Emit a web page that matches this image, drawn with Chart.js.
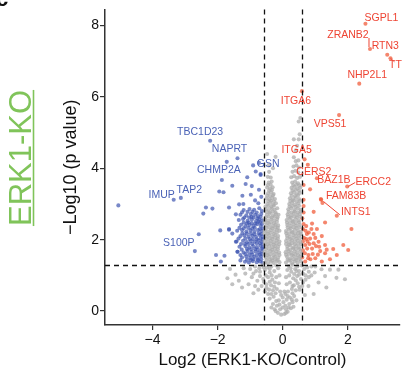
<!DOCTYPE html>
<html>
<head>
<meta charset="utf-8">
<script src="https://cdn.jsdelivr.net/npm/chart.js@4"></script>
<style>
  body { margin: 0; background: #fff; }
</style>
</head>
<body>
<canvas id="myChart" width="402" height="374"></canvas>
<script>
// Axis ticks
const xTicks = [-4, -2, 0, 2];
const yTicks = [0, 2, 4, 6, 8];
// Cutoffs (log2 fold change, -log10 p)
const fcCut = 0.585;
const pCut = 1.3;

// Not significant proteins [log2FC, -log10 p]
const grayPoints = [
  [-0.25,0.05],[-0.15,-0.05],[-0.05,-0.1],[0.05,-0.08],[0.15,-0.02],[0.25,0.08],[-0.3,0.2],[-0.18,0.15],[-0.08,0.05],[0.0,0.1],
  [0.1,0.05],[0.2,0.2],[0.3,0.25],[-0.4,0.35],[-0.28,0.4],[-0.12,0.3],[0.02,0.25],[0.12,0.32],[0.22,0.38],[0.35,0.42],
  [-0.45,0.48],[-0.05,0.45],[0.08,0.48],[0.42,0.3],[-0.35,0.1],[0.33,0.12],
  [-0.55,0.55],[-0.42,0.6],[-0.3,0.58],[-0.18,0.62],[-0.08,0.55],[0.05,0.55],[0.16,0.55],[0.28,0.62],[0.4,0.58],[0.52,0.6],
  [-0.65,0.7],[-0.5,0.75],[-0.36,0.72],[-0.24,0.8],[-0.12,0.78],[0.12,0.75],[0.22,0.8],[0.34,0.72],[0.46,0.78],[0.6,0.7],
  [-0.78,0.85],[-0.6,0.9],[-0.45,0.95],[-0.32,0.88],[-0.2,0.95],[-0.1,1.0],[0.1,0.95],[0.2,1.0],[0.32,0.92],[0.44,0.98],
  [0.56,0.9],[0.7,0.88],[-0.9,1.05],[-0.7,1.1],[-0.55,1.15],[-0.4,1.08],[-0.26,1.12],[-0.14,1.2],[0.14,1.15],[0.26,1.1],
  [0.38,1.18],[0.5,1.12],[0.62,1.05],[0.8,1.1],[-0.85,1.25],[-0.62,1.28],[-0.48,1.22],[-0.35,1.25],[-0.2,1.28],[0.18,1.26],
  [0.3,1.3],[0.45,1.25],[0.58,1.28],[0.75,1.22],
  [-0.22,0.0],[0.1,-0.05],[-0.1,0.18],[0.08,0.15],[0.18,0.1],[-0.2,0.28],[0.28,0.32],[-0.35,0.48],[-0.22,0.5],[0.0,0.38],
  [0.15,0.42],[0.3,0.5],[-0.5,0.65],[-0.26,0.68],[0.3,0.7],[0.5,0.68],[-0.58,0.82],[-0.4,0.82],
  [0.4,0.86],[0.62,0.8],[-0.7,0.98],[-0.52,1.0],[-0.34,1.0],[0.35,1.04],
  [0.5,1.02],[0.7,1.0],[-0.72,1.2],[-0.58,1.22],[-0.4,1.18],[0.24,1.2],[0.42,1.12],[0.66,1.18],[0.88,1.25],[-1.0,1.18],
  [-0.82,1.12],[0.98,1.08],[-0.85,0.7],[0.8,0.95],
  [-1.7,0.92],[-1.45,1.02],[-1.25,0.66],[-1.55,0.75],[-1.35,0.85],[-1.15,1.05],[-1.05,0.75],[-0.95,0.95],[-1.2,1.2],[-0.9,0.5],
  [-0.75,0.6],[-1.62,1.18],[1.0,1.25],[1.19,1.17],[1.45,1.16],[1.71,1.16],[1.91,0.89],[1.65,0.93],[1.3,0.98],[1.1,0.8],
  [0.79,0.7],[1.34,0.66],[0.95,0.48],[0.88,1.0],[0.68,0.45],
  [-0.55,1.36],[-0.46,1.34],[-0.37,1.38],[-0.28,1.35],[-0.19,1.4],[-0.1,1.37],[0.1,1.36],[0.19,1.41],[0.28,1.34],[0.37,1.39],[0.46,1.35],[0.55,1.4],
  [-0.5,1.43],[-0.41,1.44],[-0.32,1.42],[-0.23,1.45],[-0.15,1.43],[0.15,1.44],[0.24,1.42],[0.33,1.45],[0.42,1.43],[0.51,1.46],
  [-0.52,1.5],[-0.42,1.53],[-0.33,1.48],[-0.24,1.52],[-0.14,1.5],[0.13,1.52],[0.23,1.48],[0.33,1.54],[0.42,1.49],[0.53,1.52],
  [-0.56,1.58],[-0.47,1.57],[-0.38,1.59],[-0.28,1.56],[-0.19,1.6],[-0.1,1.57],[0.1,1.58],[0.19,1.6],[0.28,1.57],[0.38,1.59],[0.47,1.56],[0.56,1.59],
  [-0.56,1.66],[-0.47,1.63],[-0.38,1.68],[-0.29,1.65],[-0.2,1.67],[-0.11,1.64],[0.09,1.65],[0.18,1.68],[0.27,1.63],[0.36,1.67],[0.45,1.64],[0.55,1.68],
  [-0.52,1.73],[-0.43,1.74],[-0.33,1.72],[-0.24,1.75],[-0.15,1.73],[0.14,1.74],[0.23,1.72],[0.32,1.75],[0.41,1.73],[0.51,1.74],
  [-0.51,1.8],[-0.42,1.83],[-0.33,1.79],[-0.23,1.82],[-0.14,1.8],[0.14,1.81],[0.23,1.84],[0.32,1.78],[0.41,1.82],[0.5,1.79],
  [-0.55,1.88],[-0.46,1.87],[-0.37,1.89],[-0.28,1.86],[-0.19,1.9],[-0.11,1.87],[0.1,1.88],[0.19,1.86],[0.28,1.9],[0.37,1.87],[0.47,1.89],[0.56,1.87],
  [-0.56,1.96],[-0.46,1.94],[-0.37,1.97],[-0.28,1.93],[-0.19,1.98],[-0.1,1.95],[0.1,1.96],[0.19,1.93],[0.28,1.98],[0.37,1.95],[0.46,1.97],[0.55,1.94],
  [-0.5,2.03],[-0.41,2.04],[-0.32,2.02],[-0.23,2.05],[-0.15,2.03],[0.14,2.04],[0.23,2.02],[0.33,2.05],[0.42,2.03],[0.52,2.04],
  [-0.52,2.1],[-0.42,2.12],[-0.32,2.08],[-0.23,2.13],[-0.14,2.1],[0.13,2.11],[0.22,2.08],[0.32,2.13],[0.42,2.1],[0.51,2.12],
  [-0.56,2.18],[-0.46,2.17],[-0.37,2.19],[-0.28,2.16],[-0.18,2.2],[0.11,2.18],[0.2,2.17],[0.29,2.2],[0.38,2.17],[0.47,2.19],[0.56,2.16],
  [-0.55,2.26],[-0.46,2.23],[-0.37,2.27],[-0.27,2.24],[-0.18,2.28],[-0.1,2.25],[0.1,2.24],[0.19,2.28],[0.28,2.23],[0.37,2.27],[0.47,2.25],[0.56,2.22],
  [-0.5,2.33],[-0.41,2.34],[-0.32,2.32],[-0.23,2.35],[-0.15,2.33],[0.15,2.34],[0.24,2.32],[0.33,2.35],[0.42,2.33],[0.52,2.34],
  [-0.5,2.4],[-0.41,2.43],[-0.31,2.38],[-0.22,2.42],[-0.14,2.4],[0.14,2.41],[0.24,2.38],[0.33,2.43],[0.42,2.39],[0.52,2.42],
  [-0.55,2.48],[-0.46,2.47],[-0.36,2.49],[-0.27,2.46],[-0.18,2.5],[0.13,2.48],[0.22,2.47],[0.31,2.5],[0.4,2.47],[0.5,2.49],
  [-0.54,2.56],[-0.45,2.53],[-0.35,2.57],[-0.26,2.54],[-0.17,2.58],[0.12,2.55],[0.21,2.58],[0.3,2.53],[0.39,2.57],[0.49,2.54],
  [-0.52,2.63],[-0.43,2.64],[-0.34,2.62],[-0.25,2.65],[-0.16,2.63],[0.16,2.64],[0.25,2.62],[0.35,2.65],[0.44,2.63],[0.54,2.64],
  [-0.49,2.7],[-0.4,2.73],[-0.3,2.68],[-0.21,2.72],[-0.13,2.7],[0.15,2.71],[0.25,2.68],[0.34,2.73],[0.44,2.69],[0.53,2.72],
  [-0.5,2.78],[-0.4,2.77],[-0.31,2.79],[-0.22,2.76],[0.18,2.78],[0.27,2.77],[0.37,2.79],[0.46,2.76],[0.55,2.79],
  [-0.52,2.86],[-0.43,2.83],[-0.34,2.87],[-0.25,2.84],[-0.17,2.88],[0.17,2.85],[0.26,2.88],[0.36,2.83],[0.46,2.87],[0.55,2.84],
  [-0.53,2.93],[-0.44,2.94],[-0.35,2.92],[-0.27,2.95],[0.21,2.93],[0.3,2.94],[0.4,2.92],[0.5,2.95],
  [-0.47,3.0],[-0.38,3.03],[-0.29,2.98],[-0.21,3.02],[0.2,3.0],[0.29,3.03],[0.38,2.98],[0.48,3.02],
  [-0.45,3.08],[-0.36,3.09],[-0.27,3.07],[0.23,3.08],[0.33,3.09],[0.43,3.07],[0.53,3.09],
  [-0.5,3.16],[-0.41,3.13],[-0.32,3.17],[-0.24,3.14],[0.22,3.16],[0.31,3.13],[0.4,3.17],[0.5,3.14],
  [-0.48,3.23],[-0.39,3.22],[-0.3,3.24],[0.27,3.23],[0.37,3.22],[0.47,3.24],
  [-0.45,3.3],[-0.36,3.33],[-0.28,3.28],[0.25,3.3],[0.34,3.33],[0.43,3.28],[0.52,3.31],
  [-0.42,3.38],[-0.33,3.39],[0.3,3.38],[0.4,3.39],[0.5,3.37],
  [-0.48,3.46],[-0.39,3.43],[-0.31,3.47],[0.27,3.45],[0.36,3.48],[0.45,3.43],[0.54,3.46],
  [-0.46,3.53],[-0.37,3.54],[0.32,3.53],[0.42,3.54],[0.51,3.52],
  [-0.43,3.6],[-0.34,3.63],[0.29,3.6],[0.38,3.63],[0.47,3.58],
  [-0.46,3.76],[-0.37,3.74],[0.26,3.75],[0.35,3.78],[0.44,3.73],[0.53,3.76],
  [-0.42,3.9],[0.3,3.9],[0.39,3.93],[0.48,3.88],
  [-0.43,4.08],[-0.3,4.0],[0.33,4.05],[0.42,4.08],[0.5,4.02],
  [-0.22,4.32],[-0.48,4.4],[0.34,4.31],[0.4,4.2],[0.48,4.22],
  [0.44,4.63],[0.49,4.81],[0.54,5.41],[0.4,4.5],[0.52,4.95],[0.49,5.31],[0.34,4.81]
];

// Down-regulated proteins
const bluePoints = [
  [-1.2,2.83],[-1.02,2.86],[-0.88,2.84],[-0.72,2.88],[-0.64,2.8],
  [-1.3,2.7],[-1.12,2.68],[-0.98,2.72],[-0.85,2.7],[-0.76,2.66],[-0.66,2.72],
  [-1.35,2.55],[-1.22,2.58],[-1.08,2.53],[-0.95,2.56],[-0.82,2.52],[-0.72,2.57],[-0.63,2.54],
  [-1.28,2.42],[-1.15,2.38],[-1.02,2.41],[-0.9,2.38],[-0.79,2.43],[-0.68,2.39],
  [-1.4,2.25],[-1.25,2.27],[-1.12,2.23],[-0.99,2.26],[-0.87,2.22],[-0.76,2.27],[-0.65,2.24],
  [-1.3,2.1],[-1.18,2.12],[-1.05,2.08],[-0.93,2.11],[-0.82,2.08],[-0.71,2.13],[-0.62,2.09],
  [-1.42,1.95],[-1.22,1.97],[-1.1,1.93],[-0.98,1.96],[-0.86,1.94],[-0.75,1.98],[-0.65,1.94],
  [-1.33,1.8],[-1.15,1.82],[-1.03,1.78],[-0.91,1.82],[-0.8,1.79],[-0.69,1.83],[-0.61,1.78],
  [-1.39,1.66],[-1.2,1.64],[-1.08,1.68],[-0.96,1.65],[-0.84,1.67],[-0.73,1.64],[-0.64,1.68],
  [-1.25,1.5],[-1.12,1.53],[-1.0,1.49],[-0.88,1.52],[-0.77,1.48],[-0.67,1.53],
  [-1.16,1.38],[-1.04,1.36],[-0.92,1.4],[-0.8,1.37],[-0.7,1.39],[-0.62,1.35],
  [-0.78,2.6],[-0.7,2.48],[-0.86,2.33],[-0.74,2.18],[-0.92,2.02],[-0.7,1.9],[-0.85,1.74],[-0.7,1.58],[-0.9,1.45],
  [-0.96,2.64],[-1.1,2.45],[-1.05,1.88],[-1.15,1.6],[-0.62,2.32],[-0.62,2.0],
  [-1.25,2.77],[-1.08,2.78],[-0.93,2.78],[-0.8,2.76],[-0.68,2.64],[-1.18,2.62],[-1.03,2.62],[-0.9,2.62],[-0.75,2.5],[-0.64,2.44],
  [-1.2,2.48],[-1.05,2.48],[-0.95,2.46],[-0.84,2.45],[-1.33,2.33],[-1.2,2.32],[-1.06,2.33],[-0.94,2.31],[-0.7,2.3],[-1.24,2.18],
  [-1.1,2.17],[-0.98,2.17],[-0.87,2.15],[-0.66,2.16],[-1.36,2.03],[-1.15,2.03],[-1.02,2.02],[-0.8,2.01],[-0.68,2.04],[-1.28,1.88],
  [-1.16,1.88],[-0.94,1.88],[-0.8,1.9],[-0.62,1.87],[-1.26,1.72],[-1.1,1.74],[-0.97,1.73],[-0.76,1.72],[-0.64,1.75],[-1.3,1.57],
  [-1.03,1.58],[-0.93,1.58],[-0.8,1.57],[-0.64,1.6],[-1.1,1.44],[-0.98,1.43],[-0.76,1.43],[-0.66,1.45],[-1.3,1.42],
  [-1.24,3.23],[-0.98,3.26],[-0.73,3.4],[-0.68,3.84],[-1.09,3.75],[-1.14,3.56],[-1.55,3.51],[-1.95,3.35],[-1.82,3.33],
  [-2.36,2.9],[-2.44,2.73],[-2.16,2.87],[-1.34,2.99],[-1.65,2.9],[-1.92,2.26],[-1.65,2.28],[-1.55,2.17],[-1.21,3.0],
  [-0.85,3.1],[-0.66,3.2],[-0.95,3.5],[-0.75,3.02],[-1.44,1.94],[-1.39,1.66],[-1.9,1.39],[-2.05,1.57],[-1.79,1.55],
  [-1.72,4.18],[-0.73,4.15],[-0.68,3.81],[-0.83,3.91],[-5.05,2.96],[-2.58,2.15],[-1.44,2.71],[-1.65,2.3]
];

// Up-regulated proteins
const redPoints = [
  [0.64,3.53],[0.64,3.12],[0.84,3.41],[1.17,3.14],[0.95,2.78],[0.64,2.94],[1.3,2.48],[0.64,2.44],[1.05,2.3],[2.11,2.3],
  [0.74,2.16],[0.95,2.16],[0.84,2.03],[1.1,1.94],[1.3,1.85],[0.69,1.85],[0.9,1.75],[1.3,1.62],[1.66,1.57],[1.55,1.74],
  [0.79,1.57],[1.0,1.48],[1.2,1.39],[0.69,1.39],[2.01,1.71],[1.86,1.85],[0.6,2.6],[0.72,2.38],[0.88,2.3],[1.0,2.05],
  [0.76,1.95],[0.62,1.7],[1.15,1.68],[0.85,1.45],[1.08,1.58],[0.95,1.9],[0.65,2.05],[1.45,1.45],[0.75,1.75],[1.2,2.1],
  [0.92,1.6],[1.02,1.82],[0.6,1.5],[0.82,1.88],[1.22,3.03],[0.64,2.76],
  [0.7,2.25],[0.8,2.2],[0.62,2.3],[0.68,1.62],[0.78,1.48],[0.9,2.45],[1.12,1.8],[0.72,2.02],[1.35,1.72],[0.62,1.95]
];

// Labelled genes
const labelGenes = ['SGPL1','ZRANB2','RTN3','TT','NHP2L1','ITGA6','VPS51','ITGA5','CERS2','BAZ1B','ERCC2','FAM83B','INTS1',
  'TBC1D23','NAPRT','CHMP2A','GSN','IMUP','TAP2','S100P'];
const labelX = [2.54,2.68,3.21,3.31,2.35,0.59,1.73,0.67,0.77,1.05,1.98,1.18,1.66,
  -2.23,-1.39,-1.87,-0.91,-3.35,-3.13,-2.70];
const labelY = [8.05,7.34,7.18,7.08,6.37,6.16,5.49,4.25,4.10,3.72,3.49,3.12,2.67,
  4.77,4.28,3.67,4.08,3.12,3.17,1.68];
const labelGroup = ['up','up','up','up','up','up','up','up','up','up','up','up','up',
  'down','down','down','down','down','down','down'];

// Text placement around each labelled point (pixel offsets) and leader lines
const labelOffset = {
  SGPL1:[16,-6], ZRANB2:[-22,-14], RTN3:[-2,-9], TT:[5,6.5], NHP2L1:[8,-9], ITGA6:[-6,9.5], VPS51:[-9,9],
  ITGA5:[-8,-9], CERS2:[6,7], BAZ1B:[17,2], ERCC2:[26,-4], FAM83B:[25,-3.5], INTS1:[19,-3.5],
  TBC1D23:[-10,-9], NAPRT:[-8,-9], CHMP2A:[-3,-9.5], GSN:[15,-1.5], IMUP:[-12,-4.5], TAP2:[8.5,-8], S100P:[-16,-8]
};
const leaders = {
  ZRANB2:[-1,-11,-1,-2], TT:[0,0,4,3.5], ERCC2:[1,0,8,-4], INTS1:[-13,-14,3,-1]
};

const upColor = '#ee4433';
const downColor = '#4a62b6';

const toXY = arr => arr.map(p => ({x: p[0], y: p[1]}));
const upLab = [], downLab = [];
labelGenes.forEach(function(g, i){
  (labelGroup[i] === 'up' ? upLab : downLab).push({x: labelX[i], y: labelY[i]});
});

const volcanoExtras = {
  id: 'volcanoExtras',
  afterDatasetsDraw(chart) {
    const {ctx, chartArea, scales} = chart;
    const xs = scales.x, ys = scales.y;
    ctx.save();
    // threshold lines
    ctx.setLineDash([5, 4]);
    ctx.strokeStyle = '#111';
    ctx.lineWidth = 1.3;
    [-fcCut, fcCut].forEach(function(v){
      const px = Math.round(xs.getPixelForValue(v)) + 0.5;
      ctx.beginPath(); ctx.moveTo(px, chartArea.top); ctx.lineTo(px, chartArea.bottom); ctx.stroke();
    });
    const hy = Math.round(ys.getPixelForValue(pCut)) + 0.5;
    ctx.beginPath(); ctx.moveTo(chartArea.left, hy); ctx.lineTo(chartArea.right, hy); ctx.stroke();
    ctx.setLineDash([]);
    // gene labels
    ctx.font = '10.5px "Liberation Sans", Arial, sans-serif';
    ctx.textAlign = 'center';
    ctx.textBaseline = 'middle';
    labelGenes.forEach(function(g, i){
      const px = xs.getPixelForValue(labelX[i]);
      const py = ys.getPixelForValue(labelY[i]);
      const col = labelGroup[i] === 'up' ? upColor : downColor;
      const off = labelOffset[g];
      ctx.fillStyle = col;
      ctx.fillText(g, px + off[0], py + off[1]);
      const ld = leaders[g];
      if (ld) {
        ctx.strokeStyle = col;
        ctx.lineWidth = 1;
        ctx.beginPath(); ctx.moveTo(px + ld[0], py + ld[1]); ctx.lineTo(px + ld[2], py + ld[3]); ctx.stroke();
      }
    });
    ctx.restore();
  },
  afterDraw(chart) {
    const ctx = chart.ctx;
    ctx.save();
    // panel letter, cut off at the top
    ctx.fillStyle = '#111';
    ctx.font = 'bold 22px "Liberation Sans", Arial, sans-serif';
    ctx.textAlign = 'center';
    ctx.textBaseline = 'alphabetic';
    ctx.fillText('c', 2, 6);
    // side label
    ctx.translate(31, 158);
    ctx.rotate(-Math.PI / 2);
    ctx.fillStyle = '#80c45a';
    ctx.font = '31px "Liberation Sans", Arial, sans-serif';
    ctx.fillText('ERK1-KO', 0, 0);
    const w = ctx.measureText('ERK1-KO').width;
    ctx.strokeStyle = '#80c45a';
    ctx.lineWidth = 1.6;
    ctx.beginPath(); ctx.moveTo(-w / 2, 2.5); ctx.lineTo(w / 2, 2.5); ctx.stroke();
    ctx.restore();
  }
};

var ctx = document.getElementById('myChart').getContext('2d');
var myChart = new Chart(ctx, {
  type: 'scatter',
  data: {
    datasets: [
      {label: 'NS', data: toXY(grayPoints), backgroundColor: 'rgba(172,172,172,0.75)'},
      {label: 'Down', data: toXY(bluePoints).concat(downLab), backgroundColor: 'rgba(62,86,176,0.7)'},
      {label: 'Up', data: toXY(redPoints).concat(upLab), backgroundColor: 'rgba(240,88,52,0.72)'}
    ]
  },
  options: {
    responsive: false,
    animation: false,
    events: [],
    layout: {padding: {left: 60, right: 0, top: 2, bottom: 0}},
    elements: {point: {radius: 2.05, borderWidth: 0, hoverRadius: 2.05}},
    plugins: {legend: {display: false}, tooltip: {enabled: false}},
    scales: {
      x: {
        type: 'linear',
        min: -5.46, max: 3.6,
        afterBuildTicks: axis => { axis.ticks = xTicks.map(v => ({value: v})); },
        afterFit: scale => { scale.height = 49; },
        border: {display: true, color: '#333', width: 1.5},
        grid: {drawOnChartArea: false, tickLength: 5, color: '#333', lineWidth: 1.2},
        ticks: {
          color: '#111', padding: 2,
          font: {family: '"Liberation Sans", Arial, sans-serif', size: 14},
          callback: v => (v < 0 ? '\u2212' + Math.abs(v) : '' + v)
        },
        title: {
          display: true, text: 'Log2 (ERK1-KO/Control)', color: '#111',
          font: {family: '"Liberation Sans", Arial, sans-serif', size: 17},
          padding: {top: 0, bottom: 3}
        }
      },
      y: {
        type: 'linear',
        min: -0.39, max: 8.45,
        afterBuildTicks: axis => { axis.ticks = yTicks.map(v => ({value: v})); },
        afterFit: scale => { scale.width = 45; },
        border: {display: true, color: '#333', width: 1.5},
        grid: {drawOnChartArea: false, tickLength: 5, color: '#333', lineWidth: 1.2},
        ticks: {
          color: '#111', padding: 1,
          font: {family: '"Liberation Sans", Arial, sans-serif', size: 14}
        },
        title: {
          display: true, text: '\u2212Log10 (p value)', color: '#111',
          font: {family: '"Liberation Sans", Arial, sans-serif', size: 18},
          padding: {top: 0, bottom: 0}
        }
      }
    }
  },
  plugins: [volcanoExtras]
});
</script>
</body>
</html>
